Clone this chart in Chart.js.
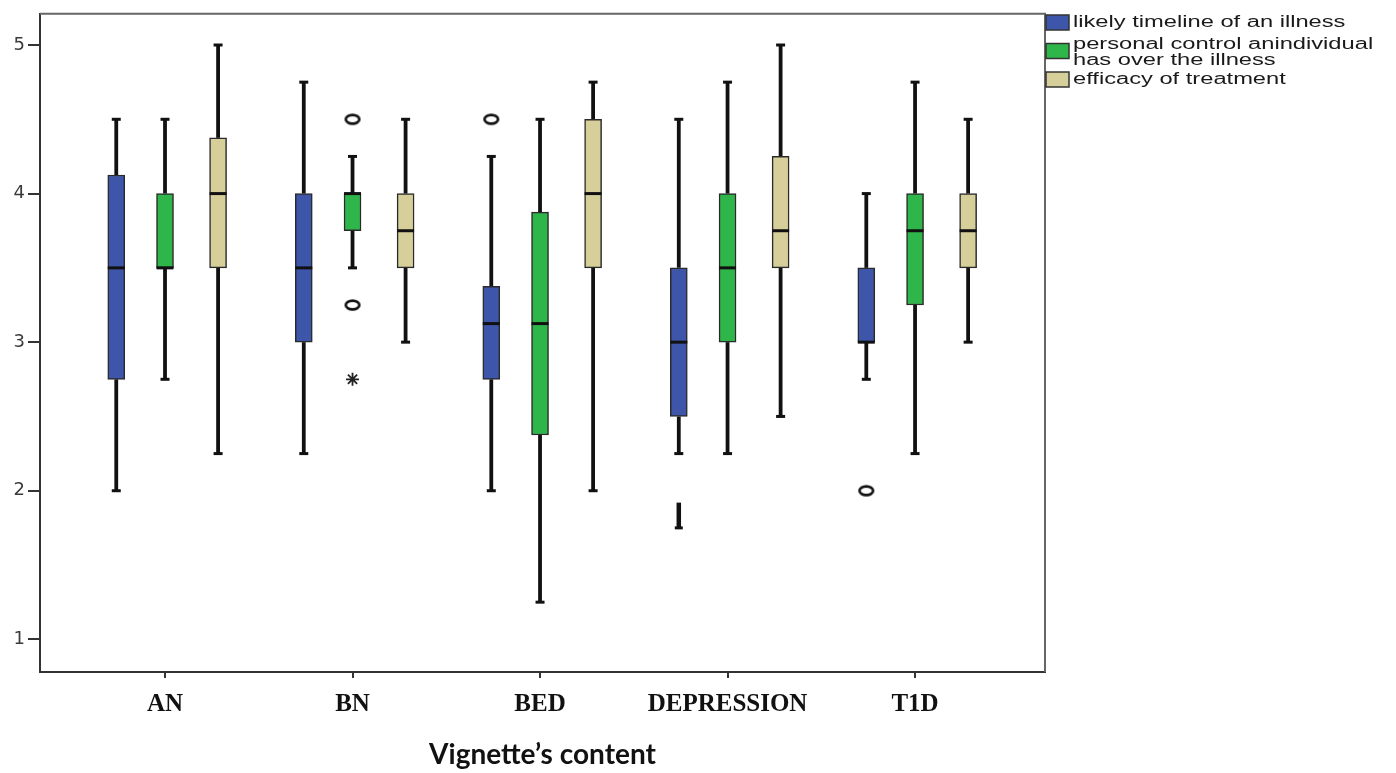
<!DOCTYPE html>
<html>
<head>
<meta charset="utf-8">
<title>Vignette's content</title>
<script src="https://cdn.jsdelivr.net/npm/chart.js@4.4.1/dist/chart.umd.min.js"></script>
<style>
    html, body { margin: 0; padding: 0; background: #fff; }
    #wrap { width: 1396px; height: 773px; position: relative; }
</style>
</head>
<body>
<div id="wrap"><canvas id="chart1"></canvas></div>
<script>
// categories on the x axis
var categories = ["AN", "BN", "BED", "DEPRESSION", "T1D"];

// legend entries, one per series
var seriesLabels = [
    ["likely timeline of an illness"],
    ["personal control anindividual", "has over the illness"],
    ["efficacy of treatment"]
];
var seriesColors = ["#3d56aa", "#2eb64b", "#d6cf99"];

// [min, q1, median, q3, max] for each category
var timelineStats = [
    [2.0, 2.75, 3.5, 4.125, 4.5],
    [2.25, 3.0, 3.5, 4.0, 4.75],
    [2.0, 2.75, 3.125, 3.375, 4.25],
    [2.25, 2.5, 3.0, 3.5, 4.5],
    [2.75, 3.0, 3.0, 3.5, 4.0]
];
var controlStats = [
    [2.75, 3.5, 3.5, 4.0, 4.5],
    [3.5, 3.75, 4.0, 4.0, 4.25],
    [1.25, 2.375, 3.125, 3.875, 4.5],
    [2.25, 3.0, 3.5, 4.0, 4.75],
    [2.25, 3.25, 3.75, 4.0, 4.75]
];
var efficacyStats = [
    [2.25, 3.5, 4.0, 4.375, 5.0],
    [3.0, 3.5, 3.75, 4.0, 4.5],
    [2.0, 3.5, 4.0, 4.5, 4.75],
    [2.5, 3.5, 3.75, 4.25, 5.0],
    [3.0, 3.5, 3.75, 4.0, 4.5]
];

// outliers: [category index, series index, value]
var circleOutliers = [[1, 1, 4.5], [1, 1, 3.25], [2, 0, 4.5], [4, 0, 2.0]];
var starOutliers = [[1, 1, 2.75]];
// loose whisker piece below DEPRESSION / timeline: [category, series, from, to]
var looseWhiskers = [[3, 0, 1.75, 1.92]];

var yTicks = [1, 2, 3, 4, 5];

var allStats = [timelineStats, controlStats, efficacyStats];
// horizontal shift of each series inside its category
var seriesOffset = [-0.26, 0, 0.283];

// little ellipse used as the "o" outlier marker
var ringMarker = document.createElement("canvas");
ringMarker.width = 20;
ringMarker.height = 14;
(function () {
    var c = ringMarker.getContext("2d");
    c.strokeStyle = "#111";
    c.lineWidth = 2.6;
    c.beginPath();
    c.ellipse(10, 7, 6.8, 4.4, 0, 0, Math.PI * 2);
    c.stroke();
})();

function outlierPoints(list) {
    return list.map(function (o) {
        return { x: o[0] + seriesOffset[o[1]], y: o[2] };
    });
}

var datasets = allStats.map(function (stats, s) {
    return {
        type: "bar",
        label: seriesLabels[s].join(" "),
        data: stats.map(function (st, i) {
            return { x: i + seriesOffset[s], y: [st[1], st[3]] };
        }),
        backgroundColor: seriesColors[s],
        borderColor: "#2a2a2a",
        borderWidth: 1.5,
        borderSkipped: false,
        barThickness: 17,
        grouped: false,
        order: 2
    };
});

datasets.push({
    type: "scatter",
    label: "outliers",
    data: outlierPoints(circleOutliers),
    pointStyle: ringMarker,
    order: 1
});
datasets.push({
    type: "scatter",
    label: "extremes",
    data: outlierPoints(starOutliers),
    pointStyle: "star",
    pointRadius: 6.5,
    borderColor: "#222",
    borderWidth: 1.8,
    order: 1
});

function line(ctx, x1, y1, x2, y2) {
    ctx.beginPath();
    ctx.moveTo(x1, y1);
    ctx.lineTo(x2, y2);
    ctx.stroke();
}

// whiskers behind the boxes, medians on top
var whiskerPlugin = {
    id: "whiskers",
    beforeDatasetsDraw: function (chart) {
        var ctx = chart.ctx, xs = chart.scales.x, ys = chart.scales.y;
        ctx.save();
        ctx.strokeStyle = "#111";
        allStats.forEach(function (stats, s) {
            stats.forEach(function (st, i) {
                var px = xs.getPixelForValue(i + seriesOffset[s]);
                ctx.lineWidth = 3.8;
                line(ctx, px, ys.getPixelForValue(st[0]), px, ys.getPixelForValue(st[1]));
                line(ctx, px, ys.getPixelForValue(st[3]), px, ys.getPixelForValue(st[4]));
                ctx.lineWidth = 3;
                line(ctx, px - 4.5, ys.getPixelForValue(st[0]), px + 4.5, ys.getPixelForValue(st[0]));
                line(ctx, px - 4.5, ys.getPixelForValue(st[4]), px + 4.5, ys.getPixelForValue(st[4]));
            });
        });
        looseWhiskers.forEach(function (w) {
            var px = xs.getPixelForValue(w[0] + seriesOffset[w[1]]);
            ctx.lineWidth = 4.5;
            line(ctx, px, ys.getPixelForValue(w[2]), px, ys.getPixelForValue(w[3]));
            ctx.lineWidth = 3;
            line(ctx, px - 4, ys.getPixelForValue(w[2]), px + 4, ys.getPixelForValue(w[2]));
        });
        ctx.restore();
    },
    afterDatasetsDraw: function (chart) {
        var ctx = chart.ctx, xs = chart.scales.x, ys = chart.scales.y;
        ctx.save();
        ctx.strokeStyle = "#111";
        ctx.lineWidth = 3;
        allStats.forEach(function (stats, s) {
            stats.forEach(function (st, i) {
                var px = xs.getPixelForValue(i + seriesOffset[s]);
                var py = ys.getPixelForValue(st[2]);
                line(ctx, px - 8.5, py, px + 8.5, py);
            });
        });
        ctx.restore();
    }
};

// top and right edges of the frame
var framePlugin = {
    id: "frame",
    afterDraw: function (chart) {
        var a = chart.chartArea, ctx = chart.ctx;
        ctx.save();
        ctx.strokeStyle = "#666";
        ctx.lineWidth = 2;
        ctx.beginPath();
        ctx.moveTo(a.left, a.top);
        ctx.lineTo(a.right, a.top);
        ctx.lineTo(a.right, a.bottom);
        ctx.stroke();
        ctx.restore();
    }
};

// SPSS style legend next to the plot, text drawn a bit stretched
var legendPlugin = {
    id: "sideLegend",
    afterDraw: function (chart) {
        var ctx = chart.ctx;
        var left = chart.chartArea.right + 1;
        ctx.save();
        seriesLabels.forEach(function (lines, i) {
            var top = 15 + i * 28.5;
            ctx.fillStyle = seriesColors[i];
            ctx.fillRect(left, top, 23, 15);
            ctx.strokeStyle = "#333";
            ctx.lineWidth = 1.5;
            ctx.strokeRect(left, top, 23, 15);
            ctx.fillStyle = "#1a1a1a";
            ctx.font = '16px "Liberation Sans", Arial, sans-serif';
            ctx.textBaseline = "middle";
            lines.forEach(function (txt, k) {
                var cy = top + 7.5 - (lines.length - 1) * 6 + k * 16;
                ctx.save();
                ctx.translate(left + 27, cy);
                ctx.scale(1.48, 1);
                ctx.fillText(txt, 0, 0);
                ctx.restore();
            });
        });
        ctx.restore();
    }
};

var ctx1 = document.getElementById("chart1").getContext("2d");
window.boxChart = new Chart(ctx1, {
    type: "bar",
    data: { datasets: datasets },
    plugins: [whiskerPlugin, framePlugin, legendPlugin],
    options: {
        responsive: true,
        maintainAspectRatio: false,
        animation: false,
        layout: { padding: { left: 0, top: 13, right: 351, bottom: 0 } },
        plugins: {
            legend: { display: false },
            tooltip: { enabled: false }
        },
        scales: {
            x: {
                type: "linear",
                offset: false,
                min: -0.6667,
                max: 4.693,
                afterBuildTicks: function (axis) {
                    axis.ticks = categories.map(function (c, i) { return { value: i }; });
                },
                afterFit: function (axis) { axis.height = 101; },
                ticks: {
                    autoSkip: false,
                    maxRotation: 0,
                    padding: 12,
                    color: "#111",
                    font: { family: '"Liberation Serif", "Times New Roman", serif', weight: "bold", size: 25 },
                    callback: function (value) { return categories[value]; }
                },
                grid: { offset: false, drawOnChartArea: false, drawTicks: true, tickLength: 6, color: "#333", lineWidth: 2 },
                border: { display: true, color: "#333", width: 2 },
                title: {
                    display: true,
                    text: "Vignette\u2019s content",
                    color: "#111",
                    padding: { top: 0, bottom: 1 },
                    font: { family: "Lato, sans-serif", weight: "bold", size: 28 }
                }
            },
            y: {
                min: 0.78,
                max: 5.21,
                afterBuildTicks: function (axis) {
                    axis.ticks = yTicks.map(function (v) { return { value: v }; });
                },
                afterFit: function (axis) { axis.width = 40; },
                ticks: {
                    padding: 3,
                    color: "#3a3a3a",
                    font: { family: '"DejaVu Sans", sans-serif', size: 18 }
                },
                grid: { drawOnChartArea: false, drawTicks: true, tickLength: 12, color: "#333", lineWidth: 2 },
                border: { display: true, color: "#333", width: 2 }
            }
        }
    }
});
</script>
</body>
</html>
